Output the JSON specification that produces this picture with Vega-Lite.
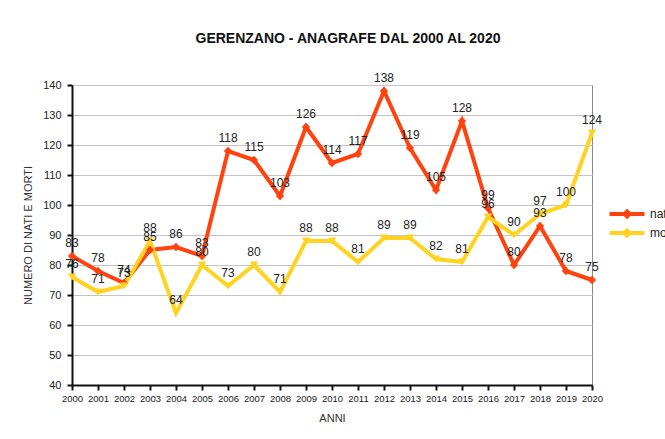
{
  "$schema": "https://vega.github.io/schema/vega-lite/v6.json",
  "width": 520,
  "height": 300,
  "autosize": "none",
  "padding": {"left": 72, "top": 85, "right": 73, "bottom": 54},
  "background": "white",
  "title": {"text": "GERENZANO - ANAGRAFE DAL 2000 AL 2020", "fontSize": 14, "font": "Liberation Sans", "fontWeight": "bold", "color": "#111", "offset": 26, "dx": 16},
  "config": {
    "view": {"stroke": "#888", "strokeWidth": 1},
    "font": "Liberation Sans"
  },
  "data": {
    "values": [
      {"anno": "2000", "serie": "nati", "valore": 83},
      {"anno": "2001", "serie": "nati", "valore": 78},
      {"anno": "2002", "serie": "nati", "valore": 74},
      {"anno": "2003", "serie": "nati", "valore": 85},
      {"anno": "2004", "serie": "nati", "valore": 86},
      {"anno": "2005", "serie": "nati", "valore": 83},
      {"anno": "2006", "serie": "nati", "valore": 118},
      {"anno": "2007", "serie": "nati", "valore": 115},
      {"anno": "2008", "serie": "nati", "valore": 103},
      {"anno": "2009", "serie": "nati", "valore": 126},
      {"anno": "2010", "serie": "nati", "valore": 114},
      {"anno": "2011", "serie": "nati", "valore": 117},
      {"anno": "2012", "serie": "nati", "valore": 138},
      {"anno": "2013", "serie": "nati", "valore": 119},
      {"anno": "2014", "serie": "nati", "valore": 105},
      {"anno": "2015", "serie": "nati", "valore": 128},
      {"anno": "2016", "serie": "nati", "valore": 99},
      {"anno": "2017", "serie": "nati", "valore": 80},
      {"anno": "2018", "serie": "nati", "valore": 93},
      {"anno": "2019", "serie": "nati", "valore": 78},
      {"anno": "2020", "serie": "nati", "valore": 75},
      {"anno": "2000", "serie": "morti", "valore": 76},
      {"anno": "2001", "serie": "morti", "valore": 71},
      {"anno": "2002", "serie": "morti", "valore": 73},
      {"anno": "2003", "serie": "morti", "valore": 88},
      {"anno": "2004", "serie": "morti", "valore": 64},
      {"anno": "2005", "serie": "morti", "valore": 80},
      {"anno": "2006", "serie": "morti", "valore": 73},
      {"anno": "2007", "serie": "morti", "valore": 80},
      {"anno": "2008", "serie": "morti", "valore": 71},
      {"anno": "2009", "serie": "morti", "valore": 88},
      {"anno": "2010", "serie": "morti", "valore": 88},
      {"anno": "2011", "serie": "morti", "valore": 81},
      {"anno": "2012", "serie": "morti", "valore": 89},
      {"anno": "2013", "serie": "morti", "valore": 89},
      {"anno": "2014", "serie": "morti", "valore": 82},
      {"anno": "2015", "serie": "morti", "valore": 81},
      {"anno": "2016", "serie": "morti", "valore": 96},
      {"anno": "2017", "serie": "morti", "valore": 90},
      {"anno": "2018", "serie": "morti", "valore": 97},
      {"anno": "2019", "serie": "morti", "valore": 100},
      {"anno": "2020", "serie": "morti", "valore": 124}
    ]
  },
  "encoding": {
    "x": {
      "field": "anno", "type": "ordinal",
      "scale": {"type": "point", "padding": 0},
      "title": "ANNI",
      "axis": {
        "labelAngle": 0, "labelFontSize": 9.5, "labelColor": "#222", "labelPadding": 3,
        "tickSize": 5, "tickWidth": 2, "tickColor": "#111",
        "domainColor": "#111", "domainWidth": 2, "grid": false,
        "titleFontSize": 11, "titleFontWeight": "normal", "titleColor": "#333", "titlePadding": 10
      }
    },
    "y": {
      "field": "valore", "type": "quantitative",
      "scale": {"domain": [40, 140], "nice": false, "zero": false},
      "title": "NUMERO DI NATI E MORTI",
      "axis": {
        "values": [40, 50, 60, 70, 80, 90, 100, 110, 120, 130, 140],
        "labelFontSize": 11, "labelColor": "#222", "labelPadding": 6,
        "tickSize": 5, "tickWidth": 2, "tickColor": "#111",
        "domainColor": "#111", "domainWidth": 2,
        "gridColor": "#c4c4c4", "gridWidth": 1,
        "titleFontSize": 11, "titleFontWeight": "normal", "titleColor": "#333", "titlePadding": 9
      }
    }
  },
  "layer": [
    {
      "mark": {"type": "line", "strokeWidth": 4},
      "encoding": {
        "color": {
          "field": "serie", "type": "nominal",
          "scale": {"domain": ["nati", "morti"], "range": ["#ff420e", "#ffd320"]},
          "legend": {
            "orient": "none", "legendX": 548, "legendY": 122, "title": null,
            "symbolType": "M-3.5,0H3.5M0,-0.5L0.5,0L0,0.5L-0.5,0Z", "symbolStrokeWidth": 4, "symbolSize": 100,
            "labelFontSize": 12, "labelColor": "#222", "rowPadding": -3, "labelOffset": 16
          }
        }
      }
    },
    {
      "transform": [{"filter": "datum.serie === 'nati'"}],
      "mark": {"type": "point", "filled": true, "size": 70, "opacity": 1, "shape": "diamond", "color": "#ff420e"}
    },
    {
      "transform": [{"filter": "datum.serie === 'morti'"}],
      "mark": {"type": "point", "filled": true, "size": 70, "opacity": 1, "shape": "triangle-down", "color": "#ffd320"}
    },
    {
      "mark": {"type": "text", "dy": -13, "fontSize": 12, "font": "Liberation Sans", "color": "#222"},
      "encoding": {"text": {"field": "valore", "type": "quantitative"}}
    }
  ]
}
